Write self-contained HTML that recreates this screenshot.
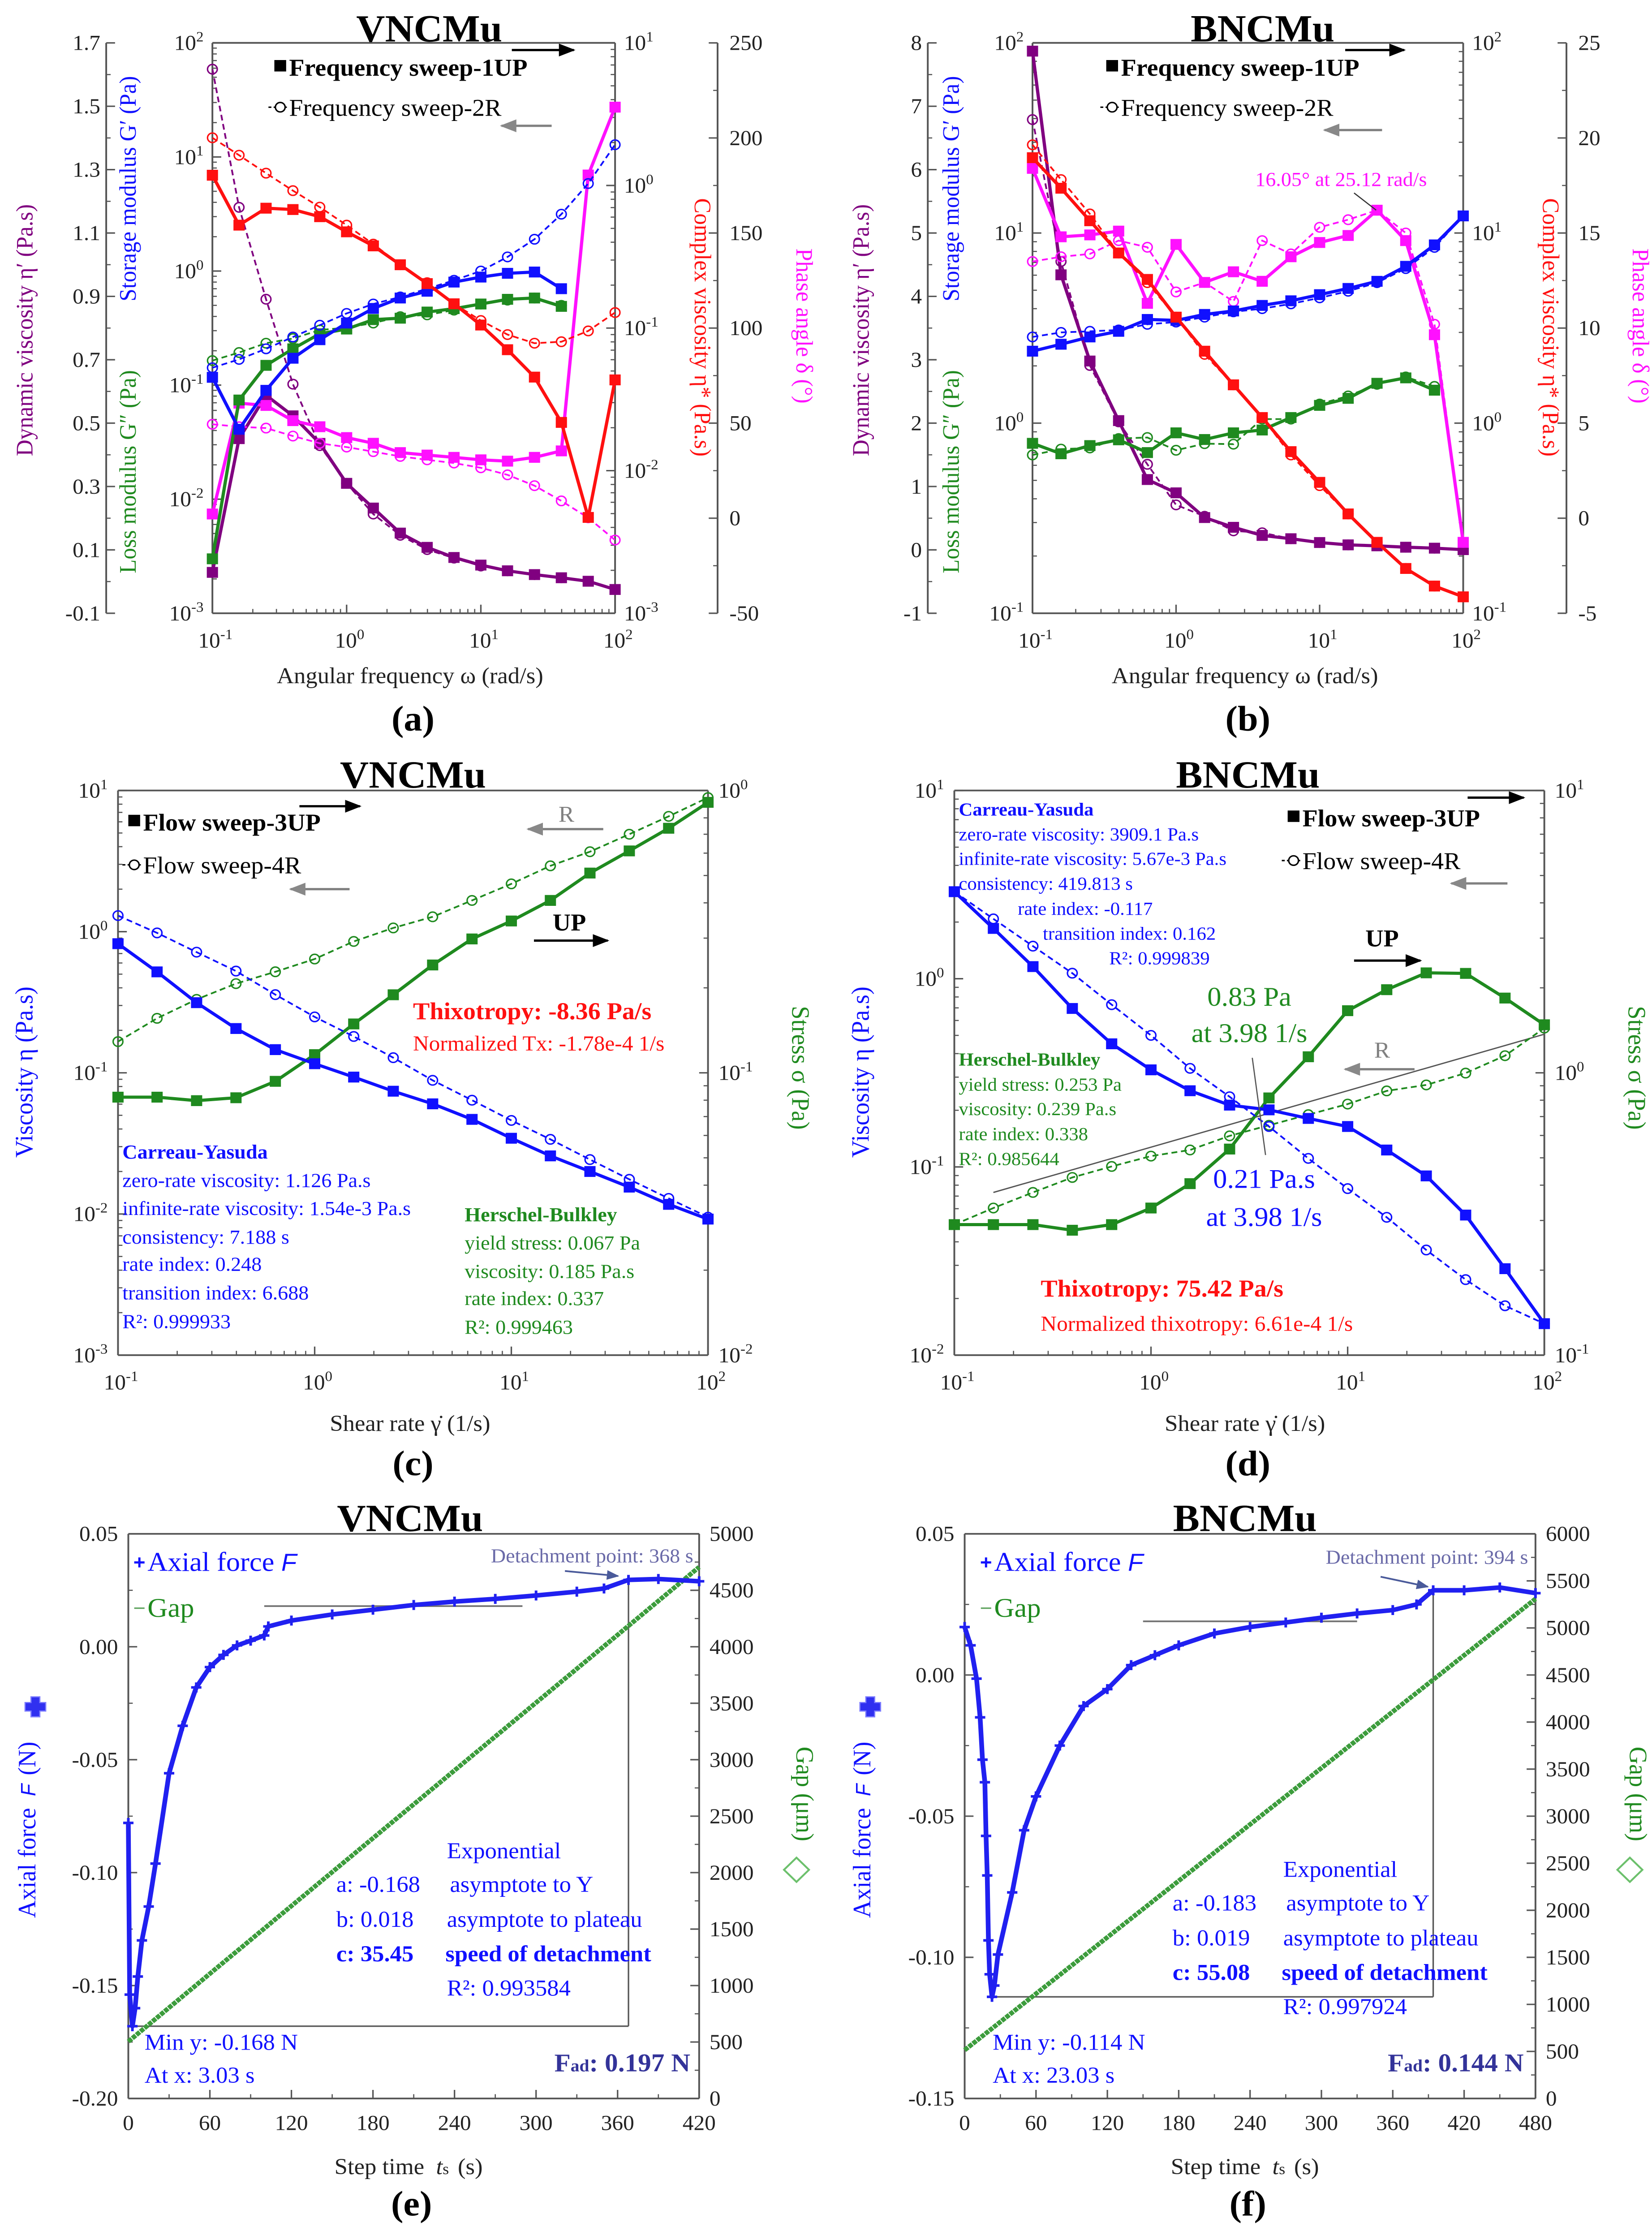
<!DOCTYPE html>
<html><head><meta charset="utf-8">
<style>
html,body{margin:0;padding:0;background:#fff;width:100%;height:100%;overflow:hidden;}
#root{position:fixed;left:0;top:0;width:100vw;height:100vh;display:block;font-family:"Liberation Serif",serif;}
</style></head>
<body>
<svg id="root" xmlns="http://www.w3.org/2000/svg" viewBox="0 0 1120 1567" preserveAspectRatio="none">
<defs>
<marker id="ahk" viewBox="0 0 10 10" refX="9" refY="5" markerWidth="7" markerHeight="7" orient="auto"><path d="M0,1 L10,5 L0,9 z" fill="#000"/></marker>
<marker id="ahg" viewBox="0 0 10 10" refX="9" refY="5" markerWidth="7" markerHeight="7" orient="auto"><path d="M0,1 L10,5 L0,9 z" fill="#888"/></marker>
<marker id="ahb" viewBox="0 0 10 10" refX="9" refY="5" markerWidth="7" markerHeight="7" orient="auto"><path d="M0,1 L10,5 L0,9 z" fill="#4a5a9a"/></marker>
</defs>
<rect x="0" y="0" width="1120" height="1567" fill="#fff"/>
</svg>
<script>
// ---------- DATA ----------
const FREQ=[0.1,0.158,0.251,0.398,0.631,1,1.58,2.51,3.98,6.31,10,15.8,25.1,39.8,63.1,100];
// panel (a) VNCMu frequency sweep
const aGpUp=[0.117,0.041,0.09,0.172,0.25,0.35,0.47,0.58,0.665,0.8,0.885,0.955,0.98,0.70];
const aGpR=[0.142,0.168,0.208,0.264,0.335,0.425,0.514,0.593,0.70,0.83,1.0,1.33,1.9,3.15,5.85,12.8];
const aGppUp=[0.003,0.074,0.149,0.208,0.282,0.31,0.375,0.386,0.437,0.468,0.514,0.565,0.58,0.49];
const aGppR=[0.164,0.193,0.233,0.256,0.304,0.319,0.35,0.398,0.413,0.454,0.514,0.556,0.58,0.5];
const aEtaUp=[1.18,0.527,0.693,0.678,0.604,0.473,0.377,0.278,0.205,0.148,0.105,0.0705,0.0453,0.0218,0.0047,0.0433];
const aEtaR=[2.16,1.63,1.22,0.92,0.705,0.527,0.388,0.278,0.208,0.148,0.113,0.09,0.0783,0.0802,0.0955,0.1285];
const aPhUp=[2.2,60.5,59.3,51.3,48.1,42.4,39.4,34.5,33.2,32,30.7,30,32,35.4,180.5,216.2];
const aPhR=[49.4,48.1,47.4,43.2,39.4,37.4,35,32.5,30.7,29,26.5,22.8,17.1,9.1,0.2,-11.5];
const aDynUp=[0.029,0.451,0.588,0.523,0.436,0.31,0.232,0.153,0.108,0.076,0.052,0.034,0.022,0.012,0.001,-0.025];
const aDynR=[1.617,1.181,0.891,0.623,0.429,0.31,0.213,0.146,0.101,0.074,0.049,0.034,0.022,0.012];
// panel (b) BNCMu frequency sweep
const bGpUp=[2.39,2.6,2.84,3.04,3.51,3.47,3.73,3.89,4.16,4.4,4.74,5.11,5.57,6.68,8.66,12.3];
const bGpR=[2.84,3.0,3.04,3.09,3.31,3.4,3.61,3.85,4.0,4.24,4.56,4.94,5.48,6.5,8.4,12.3];
const bGppUp=[0.783,0.69,0.762,0.817,0.70,0.889,0.82,0.889,0.92,1.07,1.24,1.35,1.62,1.73,1.49];
const bGppR=[0.68,0.73,0.74,0.83,0.84,0.72,0.78,0.775,1.05,1.05,1.26,1.39,1.6,1.75,1.56];
const bEtaUp=[24.9,17.2,11.6,7.85,5.7,3.61,2.39,1.59,1.07,0.708,0.488,0.333,0.236,0.172,0.139,0.122];
const bEtaR=[29.1,19.1,12.6,7.85,5.48,3.61,2.3,1.59,1.07,0.68,0.469,0.333,0.236,0.172,0.139,0.122];
const bPhUp=[18.4,14.8,14.9,15.1,11.3,14.4,12.4,12.96,12.46,13.75,14.5,14.87,16.2,14.6,9.65,-1.27];
const bPhR=[13.5,13.75,13.9,14.6,14.25,11.9,12.4,11.4,14.6,13.9,15.3,15.7,16.2,15.0,10.2,-1.27];
const bDynUp=[7.87,4.34,2.98,2.04,1.11,0.9,0.51,0.356,0.228,0.176,0.116,0.079,0.064,0.042,0.027,0.004];
const bDynR=[6.79,4.55,2.91,2.02,1.35,0.71,0.53,0.30,0.27,0.176,0.116,0.079,0.064,0.042,0.027,0.004];
// panel (c) VNCMu flow sweep
const cVisUp=[0.822,0.519,0.314,0.206,0.146,0.116,0.0933,0.0741,0.0603,0.0468,0.0344,0.0258,0.02,0.0155,0.0117,0.0092];
const cVisR=[1.3,0.98,0.716,0.526,0.358,0.249,0.181,0.128,0.0885,0.064,0.046,0.0338,0.0243,0.0176,0.0129,0.0095];
const cStrUp=[0.082,0.082,0.0797,0.0816,0.0933,0.116,0.149,0.189,0.241,0.298,0.345,0.408,0.51,0.611,0.735,0.908];
const cStrR=[0.129,0.156,0.182,0.207,0.228,0.253,0.292,0.326,0.357,0.408,0.467,0.541,0.607,0.70,0.81,0.944];
// panel (d) BNCMu flow sweep
const dVisUp=[2.9,1.85,1.16,0.695,0.451,0.328,0.254,0.213,0.201,0.181,0.164,0.123,0.0896,0.0555,0.0288,0.0147];
const dVisR=[2.9,2.08,1.49,1.07,0.728,0.5,0.334,0.236,0.164,0.111,0.0767,0.054,0.0362,0.0252,0.0183,0.0147];
const dStrUp=[0.29,0.29,0.29,0.277,0.29,0.332,0.405,0.537,0.815,1.14,1.66,1.97,2.26,2.25,1.84,1.48];
const dStrR=[0.29,0.332,0.377,0.426,0.466,0.507,0.533,0.598,0.652,0.711,0.775,0.863,0.906,0.998,1.15,1.44];
const dFitX=[0.158,100];
const dFitY=[0.377,1.37];
// panel (e) VNCMu tack
const eT=[0,1,3,5,7,10,15,20,30,40,50,60,70,80,90,100,103,120,150,180,210,240,270,300,330,350,368,390,420];
const eF=[-0.078,-0.154,-0.168,-0.160,-0.146,-0.13,-0.115,-0.096,-0.056,-0.035,-0.018,-0.009,-0.0036,0.0006,0.0027,0.005,0.009,0.0116,0.0143,0.0164,0.0185,0.020,0.0212,0.0227,0.0244,0.0258,0.0296,0.030,0.029];
const eGapT=[0,60,120,180,240,300,360,420];
const eGap=[504,1105,1705,2305,2905,3505,4105,4706];
const eFit=[-0.168,0.018,35.45,3.03,368,0.030];
// panel (f) BNCMu tack
const fT=[0,5,10,13,15,17,18,19,20,21,23,25,28,40,50,60,80,100,120,140,160,180,210,240,270,300,330,360,380,394,420,450,480];
const fF=[0.017,0.0105,-0.0013,-0.015,-0.03,-0.038,-0.057,-0.071,-0.094,-0.106,-0.114,-0.110,-0.099,-0.077,-0.055,-0.043,-0.025,-0.011,-0.005,0.0035,0.007,0.0105,0.0147,0.017,0.0186,0.0203,0.0218,0.023,0.025,0.030,0.030,0.031,0.029];
const fGapT=[0,80,160,240,320,400,480];
const fGap=[514,1313,2113,2912,3711,4510,5309];
const fFit=[-0.114,0.019,55.08,23.03,394,0.030];

// ---------- HELPERS ----------
const NS='http://www.w3.org/2000/svg';
const root=document.getElementById('root');
const BLUE='#1010ff',RED='#ff1010',GREEN='#1f8a1f',MAG='#ff10ff',PUR='#800080',GRY='#808080';
function mk(tag,attrs,parent){const e=document.createElementNS(NS,tag);for(const k in attrs)e.setAttribute(k,attrs[k]);(parent||root).appendChild(e);return e;}
function logS(min,max,p0,p1){const a=Math.log10(min),b=Math.log10(max);return v=>p0+(Math.log10(v)-a)/(b-a)*(p1-p0);}
function linS(min,max,p0,p1){return v=>p0+(v-min)/(max-min)*(p1-p0);}
function txt(x,y,s,o,name,parent){
  o=o||{};
  const a={x:x,y:y,'font-size':o.size||15,fill:o.fill||'#222','text-anchor':o.anchor||'start'};
  if(o.weight)a['font-weight']=o.weight;
  if(o.rot)a.transform='rotate('+o.rot+' '+x+' '+y+')';
  if(o.family)a['font-family']=o.family;
  const e=mk('text',a,parent);
  e.textContent=s;
  
  
  return e;
}
function pow10(x,y,e,anchor,parent){
  const t=mk('text',{x:x,y:y,'font-size':15,fill:'#222','text-anchor':anchor},parent);
  
  
  t.appendChild(document.createTextNode('10'));
  const sp=mk('tspan',{dy:-6,'font-size':10},t);sp.textContent=String(e);
  return t;
}
function ln(x1,y1,x2,y2,stroke,w,parent,extra){const a={x1:x1,y1:y1,x2:x2,y2:y2,stroke:stroke,'stroke-width':w};if(extra)for(const k in extra)a[k]=extra[k];return mk('line',a,parent);}
function logAxisV(g,x,sc,e0,e1,dir,lx,anchor,name){
  const ax=ln(x,sc(Math.pow(10,e0)),x,sc(Math.pow(10,e1)),'#555',1.2,g);
  
  
  for(let e=e0;e<=e1;e++){
    const y=sc(Math.pow(10,e));
    ln(x,y,x+dir*6,y,'#555',1,g);
    pow10(lx,y+5,e,anchor,g);
    if(e<e1)for(let m=2;m<10;m++){const yy=sc(m*Math.pow(10,e));ln(x,yy,x+dir*3,yy,'#555',0.8,g);}
  }
}
function logAxisH(g,y,sc,e0,e1,name){
  const ax=ln(sc(Math.pow(10,e0)),y,sc(Math.pow(10,e1)),y,'#555',1.2,g);
  
  
  for(let e=e0;e<=e1;e++){
    const x=sc(Math.pow(10,e));
    ln(x,y,x,y-6,'#555',1,g);
    pow10(x+2,y+24,e,'middle',g);
    if(e<e1)for(let m=2;m<10;m++){const xx=sc(m*Math.pow(10,e));ln(xx,y,xx,y-3,'#555',0.8,g);}
  }
}
function linAxisV(g,x,sc,min,max,step,dir,lx,anchor,dec,name){
  const ax=ln(x,sc(min),x,sc(max),'#555',1.2,g);
  
  
  const n=Math.round((max-min)/step);
  for(let i=0;i<=n;i++){
    const v=min+i*step,y=sc(v);
    ln(x,y,x+dir*6,y,'#555',1,g);
    if(i<n){const ym=sc(v+step/2);ln(x,ym,x+dir*3,ym,'#555',0.8,g);}
    txt(lx,y+5,v.toFixed(dec),{anchor:anchor,size:15},'tick-label',g);
  }
}
function linAxisH(g,y,sc,min,max,step,name){
  const ax=ln(sc(min),y,sc(max),y,'#555',1.2,g);
  
  
  const n=Math.round((max-min)/step);
  for(let i=0;i<=n;i++){
    const v=min+i*step,x=sc(v);
    ln(x,y,x,y-6,'#555',1,g);
    if(i<n){const xm=sc(v+step/2);ln(xm,y,xm,y-3,'#555',0.8,g);}
    txt(x,y+22,String(v),{anchor:'middle',size:15},'tick-label',g);
  }
}
function series(g,xs,ys,sx,sy,color,up,name){
  const sg=mk('g',{},g);
  
  
  const pts=ys.map((v,i)=>sx(xs[i]).toFixed(2)+','+sy(v).toFixed(2)).join(' ');
  const pl=mk('polyline',{points:pts,fill:'none',stroke:color,'stroke-width':up?2.2:1.2,'stroke-dasharray':up?'none':'4,2.5'},sg);
  
  for(let i=0;i<ys.length;i++){
    const x=sx(xs[i]),y=sy(ys[i]);
    let m;
    if(up)m=mk('rect',{x:x-3.8,y:y-3.8,width:7.6,height:7.6,fill:color},sg);
    else m=mk('circle',{cx:x,cy:y,r:3.3,fill:'none',stroke:color,'stroke-width':1},sg);
    
    
  }
}
function arrow(x1,y1,x2,y2,col,mid,w,g){const a=ln(x1,y1,x2,y2,col,w||1.6,g,{'marker-end':'url(#'+mid+')'});return a;}
function legendUp(x,y,s,g,name){
  const r=mk('rect',{x:x,y:y-11,width:8,height:8,fill:'#000'},g);
  
  txt(x+10,y,s,{size:17,weight:'bold',fill:'#000'},name,g);
}
function legendR(x,y,s,g,name){
  ln(x-4,y-6,x+10,y-6,'#000',1,g,{'stroke-dasharray':'2,1.5'});
  const c=mk('circle',{cx:x+4,cy:y-6,r:3.3,fill:'#fff',stroke:'#000','stroke-width':1},g);
  
  txt(x+10,y,s,{size:17,fill:'#000'},name,g);
}

// ---------- FREQUENCY PANELS ----------
function freqPanel(c){
  const g=mk('g',{});
  
  
  const sx=logS(0.1,100,c.x0,c.x1);
  const sG=logS(Math.pow(10,c.gE[0]),Math.pow(10,c.gE[1]),c.yb,c.yt);
  const sE=logS(Math.pow(10,c.eE[0]),Math.pow(10,c.eE[1]),c.yb,c.yt);
  const sP=linS(c.ph[0],c.ph[1],c.yb,c.yt);
  const sD=linS(c.dy[0],c.dy[1],c.yb,c.yt);
  ln(c.x0,c.yt,c.x1,c.yt,'#555',1.2,g);
  logAxisV(g,c.x0,sG,c.gE[0],c.gE[1],1,c.x0-6,'end','modulus-axis');
  logAxisV(g,c.x1,sE,c.eE[0],c.eE[1],-1,c.x1+6,'start','complex-viscosity-axis');
  logAxisH(g,c.yb,sx,-1,2,'x-axis');
  linAxisV(g,c.farX,sD,c.dy[0],c.dy[1],c.dy[2],1,c.farX-4,'end',c.dy[3],'dynamic-viscosity-axis');
  linAxisV(g,c.phX,sP,c.ph[0],c.ph[1],c.ph[2],-1,c.phX+8,'start',0,'phase-angle-axis');
  series(g,FREQ,c.dynR,sx,sD,PUR,false,'dynamic-viscosity-2R');
  series(g,FREQ,c.dynUp,sx,sD,PUR,true,'dynamic-viscosity-1UP');
  series(g,FREQ,c.phR,sx,sP,MAG,false,'phase-angle-2R');
  series(g,FREQ,c.phUp,sx,sP,MAG,true,'phase-angle-1UP');
  series(g,FREQ,c.gppR,sx,sG,GREEN,false,'loss-modulus-2R');
  series(g,FREQ,c.gppUp,sx,sG,GREEN,true,'loss-modulus-1UP');
  series(g,FREQ,c.gpR,sx,sG,BLUE,false,'storage-modulus-2R');
  series(g,FREQ,c.gpUp,sx,sG,BLUE,true,'storage-modulus-1UP');
  series(g,FREQ,c.etaR,sx,sE,RED,false,'complex-viscosity-2R');
  series(g,FREQ,c.etaUp,sx,sE,RED,true,'complex-viscosity-1UP');
  txt(c.tx,29,c.title,{size:27,weight:'bold',anchor:'middle',fill:'#000'},'chart-title',g);
  legendUp(c.lx,53,'Frequency sweep-1UP',g,'legend-1up');
  legendR(c.lx,81,'Frequency sweep-2R',g,'legend-2r');
  arrow(c.ar[0],35,c.ar[1],35,'#000','ahk',1.6,g);
  arrow(c.ag[1],c.ag[2],c.ag[0],c.ag[2],GRY,'ahg',1.6,g);
  txt(c.dlx,231,'Dynamic viscosity η′ (Pa.s)',{size:16,fill:PUR,anchor:'middle',rot:-90},'dynamic-viscosity-title',g);
  txt(c.glx,132,"Storage modulus G′ (Pa)",{size:16,fill:BLUE,anchor:'middle',rot:-90},'storage-modulus-title',g);
  txt(c.glx,330,"Loss modulus G″ (Pa)",{size:16,fill:GREEN,anchor:'middle',rot:-90},'loss-modulus-title',g);
  txt(c.rlx,229,'Complex viscosity η* (Pa.s)',{size:16,fill:RED,anchor:'middle',rot:90},'complex-viscosity-title',g);
  txt(c.plx,228,'Phase angle δ (°)',{size:16,fill:MAG,anchor:'middle',rot:90},'phase-angle-title',g);
  txt(c.xt,478,'Angular frequency  ω  (rad/s)',{size:16,anchor:'middle'},'x-axis-title',g);
  txt(c.xt+2,511,c.lab,{size:25,weight:'bold',anchor:'middle',fill:'#000'},'panel-label',g);
  return g;
}
freqPanel({name:'panel-a',x0:144,x1:417,yt:30,yb:429,gE:[-3,2],eE:[-3,1],ph:[-50,250,50],dy:[-0.1,1.7,0.2,1],
  farX:72,phX:486.5,gpUp:aGpUp,gpR:aGpR,gppUp:aGppUp,gppR:aGppR,etaUp:aEtaUp,etaR:aEtaR,phUp:aPhUp,phR:aPhR,dynUp:aDynUp,dynR:aDynR,
  title:'VNCMu',tx:291,lx:186,ar:[347,389],ag:[340,374,88],dlx:22,glx:92,rlx:471,plx:540,xt:278,lab:'(a)'});
freqPanel({name:'panel-b',x0:700,x1:992,yt:30,yb:429,gE:[-1,2],eE:[-1,2],ph:[-5,25,5],dy:[-1,8,1,0],
  farX:629,phX:1062,gpUp:bGpUp,gpR:bGpR,gppUp:bGppUp,gppR:bGppR,etaUp:bEtaUp,etaR:bEtaR,phUp:bPhUp,phR:bPhR,dynUp:bDynUp,dynR:bDynR,
  title:'BNCMu',tx:856,lx:750,ar:[912,952],ag:[898,937,91],dlx:589,glx:650,rlx:1046,plx:1107,xt:844,lab:'(b)'});
txt(851,130,'16.05° at 25.12 rad/s',{size:14,fill:MAG},'peak-annotation');
ln(918,135,933,147,'#333',0.8);

// ---------- FLOW PANELS ----------
function flowPanel(c){
  const g=mk('g',{});
  
  
  const sx=logS(0.1,100,c.x0,c.x1);
  const sV=logS(Math.pow(10,c.vE[0]),Math.pow(10,c.vE[1]),c.yb,c.yt);
  const sS=logS(Math.pow(10,c.sE[0]),Math.pow(10,c.sE[1]),c.yb,c.yt);
  ln(c.x0,c.yt,c.x1,c.yt,'#555',1.2,g);
  logAxisV(g,c.x0,sV,c.vE[0],c.vE[1],1,c.x0-7,'end','viscosity-axis');
  logAxisV(g,c.x1,sS,c.sE[0],c.sE[1],-1,c.x1+7,'start','stress-axis');
  logAxisH(g,c.yb,sx,-1,2,'x-axis');
  if(c.fitX){const fl=ln(sx(c.fitX[0]),sS(c.fitY[0]),sx(c.fitX[1]),sS(c.fitY[1]),'#555',0.9,g);}
  series(g,FREQ,c.sR,sx,sS,GREEN,false,'stress-4R');
  series(g,FREQ,c.sUp,sx,sS,GREEN,true,'stress-3UP');
  series(g,FREQ,c.vR,sx,sV,BLUE,false,'viscosity-4R');
  series(g,FREQ,c.vUp,sx,sV,BLUE,true,'viscosity-3UP');
  txt(c.tx,551,c.title,{size:27,weight:'bold',anchor:'middle',fill:'#000'},'chart-title',g);
  txt(c.ylx,750,'Viscosity  η  (Pa.s)',{size:17,fill:BLUE,anchor:'middle',rot:-90},'y-axis-title',g);
  txt(c.rlx,747,'Stress  σ  (Pa)',{size:17,fill:GREEN,anchor:'middle',rot:90},'stress-axis-title',g);
  txt(c.tx-2,1001,'Shear rate  γ̇  (1/s)',{size:16,anchor:'middle'},'x-axis-title',g);
  txt(c.tx,1032,c.lab,{size:25,weight:'bold',anchor:'middle',fill:'#000'},'panel-label',g);
  return g;
}
flowPanel({name:'panel-c',x0:80,x1:480,yt:553,yb:948,vE:[-3,1],sE:[-2,0],vUp:cVisUp,vR:cVisR,sUp:cStrUp,sR:cStrR,title:'VNCMu',tx:280,ylx:22,rlx:537,lab:'(c)'});
flowPanel({name:'panel-d',x0:647,x1:1047,yt:553,yb:948,vE:[-2,1],sE:[-1,1],vUp:dVisUp,vR:dVisR,sUp:dStrUp,sR:dStrR,fitX:dFitX,fitY:dFitY,title:'BNCMu',tx:846,ylx:589,rlx:1104,lab:'(d)'});
legendUp(87,581,'Flow sweep-3UP',root,'legend-3up');
legendR(87,611,'Flow sweep-4R',root,'legend-4r');
arrow(203,564,244,564,'#000','ahk',1.6);
arrow(237,622,197,622,GRY,'ahg',1.6);
txt(384,575,'R',{size:16,fill:GRY,anchor:'middle'},'r-label');
arrow(409,580,358,580,GRY,'ahg',1.6);
txt(386,651,'UP',{size:17,weight:'bold',anchor:'middle',fill:'#000'},'up-label');
arrow(362,658,412,658,'#000','ahk',1.6);
txt(280,713,'Thixotropy: -8.36 Pa/s',{size:17,weight:'bold',fill:RED},'thixotropy-value');
txt(280,735,'Normalized Tx: -1.78e-4 1/s',{size:15,fill:RED},'normalized-thixotropy');
[['Carreau-Yasuda',810.5,'bold'],['zero-rate viscosity: 1.126 Pa.s',830.3],['infinite-rate viscosity: 1.54e-3 Pa.s',850],['consistency: 7.188 s',870],['rate index: 0.248',889],['transition index: 6.688',909],['R²: 0.999933',929]].forEach(r=>{
  txt(83,r[1],r[0],{size:14,fill:BLUE,weight:r[2]},'carreau-yasuda-text');
});
[['Herschel-Bulkley',854.3,'bold'],['yield stress: 0.067 Pa',874],['viscosity: 0.185 Pa.s',894],['rate index: 0.337',913],['R²: 0.999463',933]].forEach(r=>{
  txt(315,r[1],r[0],{size:14,fill:GREEN,weight:r[2]},'herschel-bulkley-text');
});
[['Carreau-Yasuda',650,570.6,'bold'],['zero-rate viscosity: 3909.1 Pa.s',650,588],['infinite-rate viscosity: 5.67e-3 Pa.s',650,605],['consistency: 419.813 s',650,622.4],['rate index: -0.117',690,640],['transition index: 0.162',707,657.4],['R²: 0.999839',752,674.6]].forEach(r=>{
  txt(r[1],r[2],r[0],{size:13,fill:BLUE,weight:r[3]},'carreau-yasuda-text');
});
[['Herschel-Bulkley',745.5,'bold'],['yield stress: 0.253 Pa',763],['viscosity: 0.239 Pa.s',780],['rate index: 0.338',797.6],['R²: 0.985644',815]].forEach(r=>{
  txt(650,r[1],r[0],{size:13,fill:GREEN,weight:r[2]},'herschel-bulkley-text');
});
legendUp(873,578,'Flow sweep-3UP',root,'legend-3up');
legendR(873,608,'Flow sweep-4R',root,'legend-4r');
arrow(995,558,1033,558,'#000','ahk',1.6);
arrow(1022,618,984,618,GRY,'ahg',1.6);
txt(937,662,'UP',{size:17,weight:'bold',anchor:'middle',fill:'#000'},'up-label');
arrow(918,672,963,672,'#000','ahk',1.6);
txt(847,703.6,'0.83 Pa',{size:19,fill:GREEN,anchor:'middle'},'stress-crossover-value');
txt(847,729,'at 3.98 1/s',{size:19,fill:GREEN,anchor:'middle'},'stress-crossover-rate');
txt(937,740,'R',{size:16,fill:GRY,anchor:'middle'},'r-label');
arrow(959,748,912,748,GRY,'ahg',1.6);
txt(857,831,'0.21 Pa.s',{size:19,fill:BLUE,anchor:'middle'},'viscosity-crossover-value');
txt(857,857.6,'at 3.98 1/s',{size:19,fill:BLUE,anchor:'middle'},'viscosity-crossover-rate');
ln(849,740,858,808,'#555',0.8);
txt(705.6,907,'Thixotropy: 75.42 Pa/s',{size:17,weight:'bold',fill:RED},'thixotropy-value');
txt(705.6,931,'Normalized thixotropy: 6.61e-4 1/s',{size:15,fill:RED},'normalized-thixotropy');

// ---------- TACK PANELS ----------
function tackPanel(c){
  const g=mk('g',{});
  
  
  const sx=linS(0,c.tMax,c.x0,c.x1);
  const sF=linS(c.fMin,0.05,c.yb,c.yt);
  const sG=linS(0,c.gMax,c.yb,c.yt);
  ln(c.x0,c.yt,c.x1,c.yt,'#555',1.2,g);
  linAxisV(g,c.x0,sF,c.fMin,0.05,0.05,1,c.x0-7,'end',2,'force-axis');
  linAxisV(g,c.x1,sG,0,c.gMax,500,-1,c.x1+7,'start',0,'gap-axis');
  linAxisH(g,c.yb,sx,0,c.tMax,60,'x-axis');
  const fit=c.fit;
  const b1=ln(sx(fit[3]),sF(fit[0]),sx(fit[4]),sF(fit[0]),'#555',1,g);
  const b2=ln(sx(fit[4]),sF(fit[0]),sx(fit[4]),sF(fit[5]),'#555',1,g);
  const b3=ln(sx(c.plat[0]),sF(fit[1]),sx(c.plat[1]),sF(fit[1]),'#777',1.2,g);
  const gg=mk('g',{},g);
  
  
  const gp=mk('polyline',{points:c.gT.map((t,i)=>sx(t)+','+sG(c.gap[i])).join(' '),fill:'none',stroke:'#3c9c3c','stroke-width':3.2,'stroke-dasharray':'3,0.6'},gg);
  
  const fg=mk('g',{},g);
  
  
  const fp=mk('polyline',{points:c.t.map((t,i)=>sx(t).toFixed(2)+','+sF(c.f[i]).toFixed(2)).join(' '),fill:'none',stroke:'#2020f0','stroke-width':c.lw,'stroke-linejoin':'round'},fg);
  
  for(let i=0;i<c.t.length;i++){
    const x=sx(c.t[i]),y=sF(c.f[i]);
    const p=mk('path',{d:'M'+(x-3.5)+','+y+'h7M'+x+','+(y-3.5)+'v7',stroke:'#2020f0','stroke-width':1.8},fg);
    
  }
  txt(c.tx,1071,c.title,{size:27,weight:'bold',anchor:'middle',fill:'#000'},'chart-title',g);
  return {g:g,sx:sx,sF:sF};
}
tackPanel({name:'panel-e',x0:87,x1:474,yt:1073,yb:1468,tMax:420,fMin:-0.2,gMax:5000,t:eT,f:eF,gT:eGapT,gap:eGap,fit:eFit,plat:[100,290],title:'VNCMu',tx:278,lw:3.2});
tackPanel({name:'panel-f',x0:654,x1:1041,yt:1073,yb:1468,tMax:480,fMin:-0.15,gMax:6000,t:fT,f:fF,gT:fGapT,gap:fGap,fit:fFit,plat:[150,330],title:'BNCMu',tx:844,lw:3.2});
function tackText(o){
  const lg=txt(o.lx+8,1099,'Axial force ',{size:19,fill:BLUE},'legend-axial-force');
  const lf=mk('tspan',{'font-family':'"Liberation Sans",sans-serif','font-style':'italic','font-size':17},lg);lf.textContent='F';
  ln(o.lx-1,1093,o.lx+6,1093,BLUE,1.5);ln(o.lx+2.5,1089.5,o.lx+2.5,1096.5,BLUE,1.5);
  txt(o.lx+8,1131,'Gap',{size:19,fill:GREEN},'legend-gap');
  ln(o.lx-1,1125,o.lx+6,1125,'#5aa05a',1);
  txt(o.dx,o.dy,o.det,{size:14,fill:'#6a6aa8',anchor:'end'},'detachment-label');
  arrow(o.da[0],o.da[1],o.da[2],o.da[3],'#4a5a9a','ahb',1.2);
  txt(o.ex,o.ey,'Exponential',{size:16,fill:BLUE},'fit-title');
  txt(o.ax,o.ey+23.5,o.a,{size:16,fill:BLUE},'fit-a');
  txt(o.ex+2,o.ey+23.5,'asymptote to Y',{size:16,fill:BLUE},'fit-a-desc');
  txt(o.ax,o.ey+48,o.b,{size:16,fill:BLUE},'fit-b');
  txt(o.ex,o.ey+48,'asymptote to plateau',{size:16,fill:BLUE},'fit-b-desc');
  txt(o.ax,o.ey+72,o.c,{size:16,fill:BLUE,weight:'bold'},'fit-c');
  txt(o.ex-1,o.ey+72,'speed of detachment',{size:16,fill:BLUE,weight:'bold'},'fit-c-desc');
  txt(o.ex,o.ey+96,o.r,{size:16,fill:BLUE},'fit-r2');
  txt(o.mx,1434,o.miny,{size:16,fill:BLUE},'min-y-label');
  txt(o.mx,1457,o.atx,{size:16,fill:BLUE},'min-x-label');
  const fa=txt(o.fx,1449,'',{size:18,fill:'#333399',anchor:'end',weight:'bold'},'adhesion-force');
  fa.appendChild(document.createTextNode('F'));
  const s=mk('tspan',{'font-size':12},fa);s.textContent='ad';
  const s2=mk('tspan',{},fa);s2.textContent=': '+o.fad;
  const yl=txt(o.ylx,1280,'Axial force ',{size:17,fill:BLUE,anchor:'middle',rot:-90},'y-axis-title');
  const i1=mk('tspan',{'font-family':'"Liberation Sans",sans-serif','font-style':'italic','font-size':14,dx:4},yl);i1.textContent='F';
  const i2=mk('tspan',{dx:6},yl);i2.textContent='(N)';
  const ic=mk('path',{d:'M'+(o.ylx-7)+',1191h4v-4h6v4h4v6h-4v4h-6v-4h-4z',fill:'#3030f0',stroke:'#8080ff','stroke-width':0.8});
  
  txt(o.rlx,1255,'Gap  (μm)',{size:17,fill:GREEN,anchor:'middle',rot:90},'gap-axis-title');
  const dm=mk('rect',{x:o.rlx-6,y:1308-6,width:12,height:12,fill:'none',stroke:'#6cc06c','stroke-width':1.3,transform:'rotate(45 '+o.rlx+' 1308)'});
  
  const xl=txt(o.xc,1521,'Step time ',{size:16,anchor:'middle'},'x-axis-title');
  const t1=mk('tspan',{'font-style':'italic',dx:4},xl);t1.textContent='t';
  const t2=mk('tspan',{'font-size':11},xl);t2.textContent='s';
  const t3=mk('tspan',{dx:6},xl);t3.textContent='(s)';
  txt(o.xc+2,1550,o.lab,{size:25,weight:'bold',anchor:'middle',fill:'#000'},'panel-label');
}
tackText({lx:92,dx:470,dy:1093,det:'Detachment point: 368 s',da:[383,1099,419,1102.5],ex:303,ey:1300,ax:228,a:'a: -0.168',b:'b: 0.018',c:'c: 35.45',r:'R²: 0.993584',mx:98,miny:'Min y: -0.168 N',atx:'At x: 3.03 s',fx:468,fad:'0.197 N',ylx:24,rlx:540,xc:277,lab:'(e)'});
tackText({lx:666,dx:1036,dy:1094,det:'Detachment point: 394 s',da:[936,1103,968,1110],ex:870,ey:1313,ax:795,a:'a: -0.183',b:'b: 0.019',c:'c: 55.08',r:'R²: 0.997924',mx:673,miny:'Min y: -0.114 N',atx:'At x: 23.03 s',fx:1033,fad:'0.144 N',ylx:590,rlx:1105,xc:844,lab:'(f)'});
</script>
</body></html>
